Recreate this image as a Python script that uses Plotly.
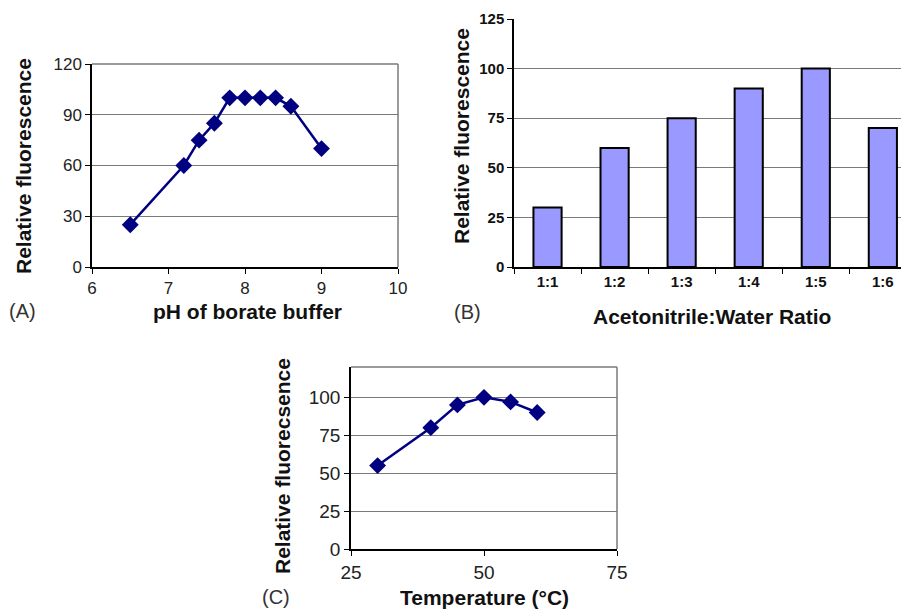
import plotly.graph_objects as go

W, H = 909, 610
OFF = 8  # page body margin offset

# Panel A data
ph = [6.5, 7.2, 7.4, 7.6, 7.8, 8.0, 8.2, 8.4, 8.6, 9.0]
ph_fluor = [25, 60, 75, 85, 100, 100, 100, 100, 95, 70]

# Panel B data
ratios = ["1:1", "1:2", "1:3", "1:4", "1:5", "1:6"]
ratio_fluor = [30, 60, 75, 90, 100, 70]

# Panel C data
temp = [30, 40, 45, 50, 55, 60]
temp_fluor = [55, 80, 95, 100, 97, 90]

FONT = "Arial, Liberation Sans, sans-serif"
NAVY = "#000080"
GRID = "#7a7a7a"

def fx(px):
    return (px - OFF) / W

def fy(py):
    return 1 - (py - OFF) / H

fig = go.Figure()

fig.add_trace(go.Scatter(x=ph, y=ph_fluor, mode="lines+markers",
                         line=dict(color=NAVY, width=2.5),
                         marker=dict(symbol="diamond", size=13, color=NAVY),
                         xaxis="x", yaxis="y", showlegend=False))
fig.add_trace(go.Bar(x=ratios, y=ratio_fluor, width=0.42,
                     marker=dict(color="#9999FF", line=dict(color="black", width=2)),
                     xaxis="x2", yaxis="y2", showlegend=False))
fig.add_trace(go.Scatter(x=temp, y=temp_fluor, mode="lines+markers",
                         line=dict(color=NAVY, width=2.5),
                         marker=dict(symbol="diamond", size=13, color=NAVY),
                         xaxis="x3", yaxis="y3", showlegend=False))

axis_common = dict(showline=True, linecolor="black", linewidth=1.5, ticks="outside",
                   ticklen=5, tickcolor="black", zeroline=False, automargin=False)

tick_a = dict(size=17, color="#222", family=FONT)
tick_b = dict(size=15, color="#111", family=FONT, weight="bold")
tick_c = dict(size=19, color="#222", family=FONT)

fig.update_layout(
    width=W, height=H, margin=dict(l=0, r=0, t=0, b=0, pad=0, autoexpand=False),
    plot_bgcolor="white", paper_bgcolor="white",
    font=dict(family=FONT, color="#222"),
    xaxis=dict(domain=[fx(92), fx(398)], anchor="y", range=[6, 10], tickvals=[6, 7, 8, 9, 10],
               showgrid=False, tickfont=tick_a, **axis_common),
    yaxis=dict(domain=[fy(267), fy(64)], anchor="x", range=[0, 120], tickvals=[0, 30, 60, 90, 120],
               showgrid=True, gridcolor=GRID, gridwidth=1, tickfont=tick_a, **axis_common),
    xaxis2=dict(domain=[fx(514), fx(909)], anchor="y2", type="category", range=[-0.5, 5.39],
                tickson="boundaries", showgrid=False, tickfont=tick_b, **axis_common),
    yaxis2=dict(domain=[fy(267), fy(19)], anchor="x2", range=[0, 125], tickvals=[0, 25, 50, 75, 100, 125],
                showgrid=True, gridcolor=GRID, gridwidth=1, tickfont=tick_b, **axis_common),
    xaxis3=dict(domain=[fx(351), fx(617)], anchor="y3", range=[25, 75], tickvals=[25, 50, 75],
                showgrid=False, tickfont=tick_c, **axis_common),
    yaxis3=dict(domain=[fy(549), fy(367)], anchor="x3", range=[0, 120], tickvals=[0, 25, 50, 75, 100],
                showgrid=True, gridcolor=GRID, gridwidth=1, tickfont=tick_c, **axis_common),
)

# gray frame lines (top and right) for A and C
for xr, yr in [("x", "y"), ("x3", "y3")]:
    fig.add_shape(type="line", xref=f"{xr} domain", yref=f"{yr} domain", x0=0, x1=1, y0=1, y1=1,
                  line=dict(color=GRID, width=1.5))
    fig.add_shape(type="line", xref=f"{xr} domain", yref=f"{yr} domain", x0=1, x1=1, y0=0, y1=1,
                  line=dict(color=GRID, width=1.5))

title_font = dict(family=FONT, size=21, color="#111")
bold = lambda s: f"<b>{s}</b>"

ann = [
    dict(text=bold("Relative fluorescence"), x=fx(23), y=fy(166), textangle=-90),
    dict(text=bold("pH of borate buffer"), x=fx(247), y=fy(311)),
    dict(text="(A)", x=fx(22), y=fy(311)),
    dict(text=bold("Relative fluorescence"), x=fx(461), y=fy(136), textangle=-90),
    dict(text=bold("Acetonitrile:Water Ratio"), x=fx(712), y=fy(316)),
    dict(text="(B)", x=fx(467), y=fy(312)),
    dict(text=bold("Relative fluorecsence"), x=fx(282), y=fy(466), textangle=-90),
    dict(text=bold("Temperature (°C)"), x=fx(484), y=fy(597)),
    dict(text="(C)", x=fx(276), y=fy(597)),
]
for a in ann:
    f = dict(title_font)
    if a["text"].startswith("("):
        f.update(size=20, color="#333")
    fig.add_annotation(xref="paper", yref="paper", showarrow=False,
                       xanchor="center", yanchor="middle", font=f, **a)

fig.write_html("out.html")
